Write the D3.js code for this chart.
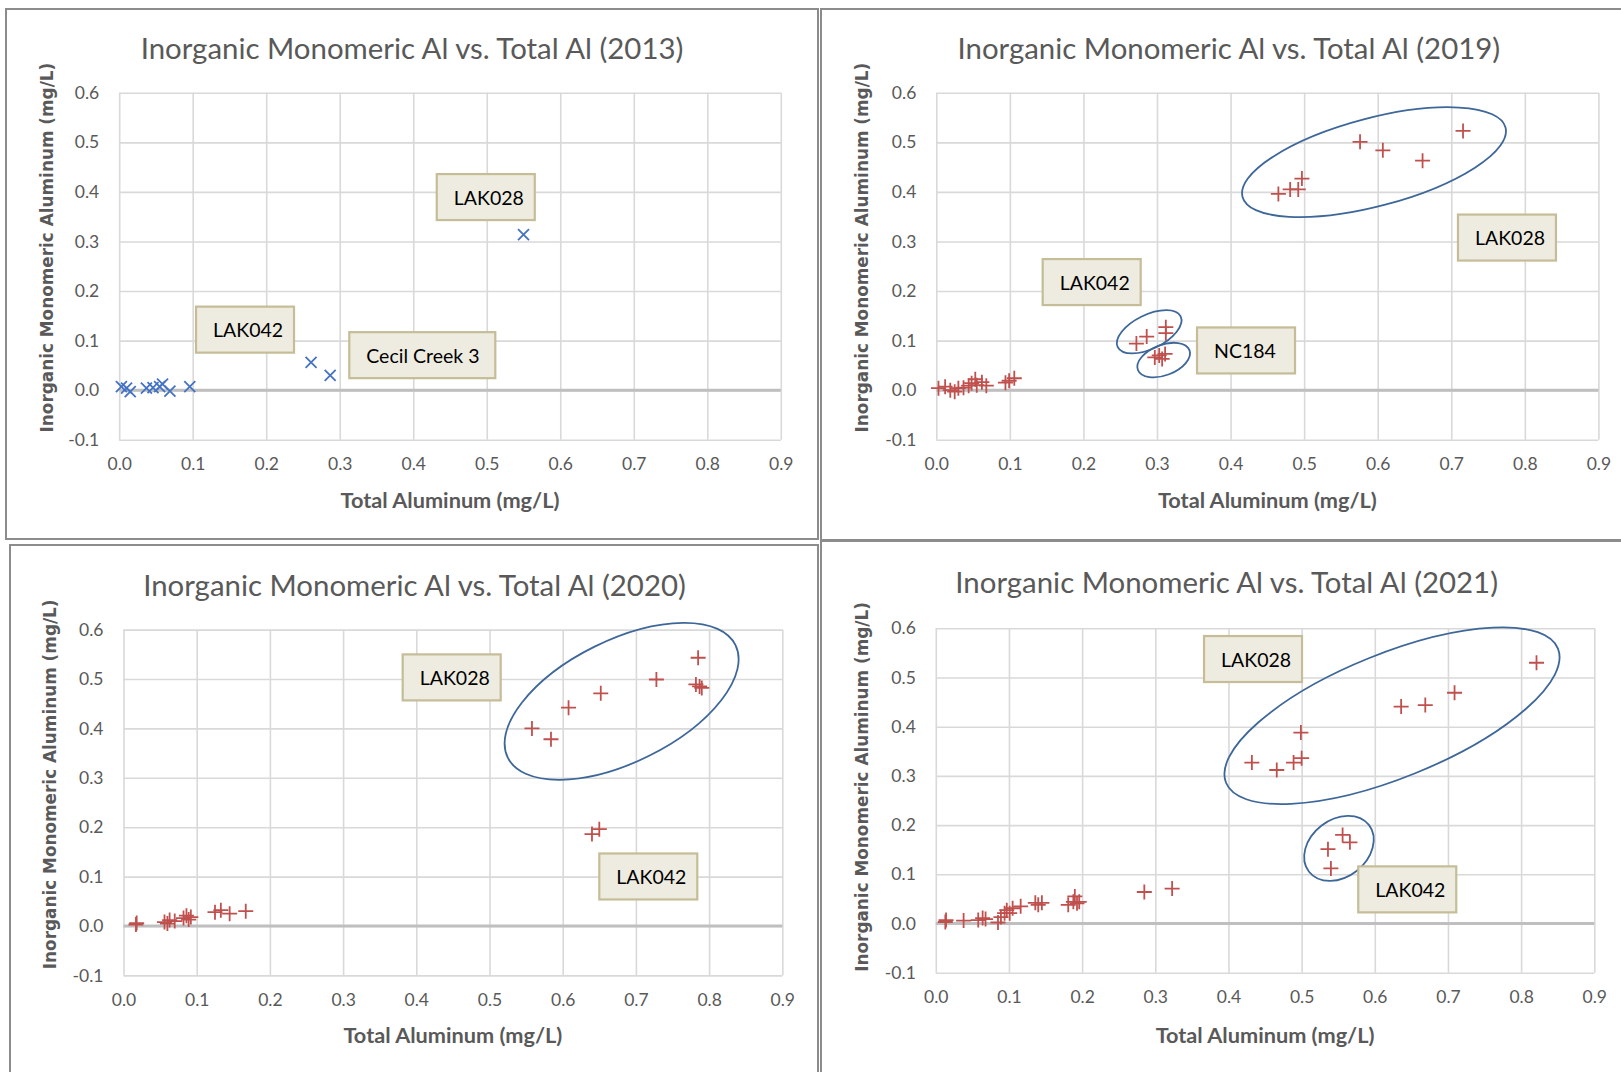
<!DOCTYPE html>
<html>
<head>
<meta charset="utf-8">
<script src="https://cdnjs.cloudflare.com/ajax/libs/d3/7.8.5/d3.min.js"></script>
<style>
  body { margin: 0; background: #fff; }
  svg { display: block; }
</style>
</head>
<body>
<div id="chart"></div>
<script>
// ---- values ----
var xTicks = [0.0, 0.1, 0.2, 0.3, 0.4, 0.5, 0.6, 0.7, 0.8, 0.9];
var yTicks = [-0.1, 0.0, 0.1, 0.2, 0.3, 0.4, 0.5, 0.6];

var total2013 = [0.003, 0.010, 0.015, 0.037, 0.046, 0.055, 0.059, 0.069, 0.096, 0.261, 0.287, 0.550];
var inorg2013 = [0.007, 0.004, -0.003, 0.004, 0.005, 0.007, 0.012, -0.002, 0.007, 0.056, 0.030, 0.314];

var total2019 = [0.003, 0.012, 0.019, 0.025, 0.030, 0.037, 0.044, 0.048, 0.053, 0.055, 0.062, 0.068, 0.094, 0.099, 0.106,
  0.272, 0.286, 0.312, 0.312, 0.297, 0.303, 0.307, 0.311,
  0.465, 0.481, 0.492, 0.497, 0.576, 0.607, 0.661, 0.716];
var inorg2019 = [0.004, 0.007, 0.000, -0.003, 0.004, 0.005, 0.009, 0.014, 0.022, 0.010, 0.016, 0.009, 0.015, 0.019, 0.024,
  0.094, 0.108, 0.127, 0.115, 0.066, 0.070, 0.063, 0.073,
  0.396, 0.405, 0.405, 0.427, 0.501, 0.484, 0.463, 0.523];

var total2020 = [0.017, 0.018, 0.056, 0.060, 0.063, 0.070, 0.082, 0.086, 0.089, 0.092, 0.125, 0.133, 0.145, 0.167,
  0.558, 0.584, 0.608, 0.652, 0.728, 0.785, 0.782, 0.787, 0.790, 0.640, 0.650];
var inorg2020 = [0.003, 0.006, 0.008, 0.005, 0.012, 0.010, 0.016, 0.021, 0.013, 0.018, 0.028, 0.032, 0.025, 0.030,
  0.400, 0.378, 0.442, 0.471, 0.499, 0.543, 0.489, 0.485, 0.482, 0.186, 0.196];

var total2021 = [0.013, 0.014, 0.038, 0.058, 0.064, 0.068, 0.085, 0.089, 0.094, 0.097, 0.101, 0.105, 0.116, 0.136, 0.140,
  0.145, 0.181, 0.188, 0.190, 0.193, 0.196, 0.285, 0.323,
  0.432, 0.466, 0.489, 0.500, 0.499, 0.636, 0.669, 0.709, 0.821,
  0.536, 0.540, 0.556, 0.566];
var inorg2021 = [0.003, 0.007, 0.006, 0.007, 0.011, 0.009, 0.002, 0.013, 0.021, 0.027, 0.021, 0.031, 0.035, 0.042, 0.038,
  0.042, 0.038, 0.044, 0.055, 0.041, 0.044, 0.064, 0.071,
  0.327, 0.312, 0.327, 0.336, 0.388, 0.441, 0.444, 0.469, 0.530,
  0.151, 0.112, 0.180, 0.165];

// call-out boxes: text, top-left corner in data units
var labels2013 = [["LAK028", 0.432, 0.436], ["LAK042", 0.1045, 0.1685], ["Cecil Creek 3", 0.313, 0.117]];
var labels2019 = [["LAK042", 0.1446, 0.2645], ["NC184", 0.3544, 0.1265], ["LAK028", 0.7091, 0.3543]];
var labels2020 = [["LAK028", 0.3814, 0.5498], ["LAK042", 0.650, 0.1468]];
var labels2021 = [["LAK028", 0.3666, 0.5843], ["LAK042", 0.5774, 0.1161]];

// ellipses: centre in data units, semi axes (px), tilt (deg)
var rings2013 = [];
var rings2019 = [[0.595, 0.460, 136, 44, 14.8], [0.2894, 0.1178, 35, 17, 26], [0.3091, 0.0607, 27.6, 15.2, 21]];
var rings2020 = [[0.6805, 0.4548, 127, 61, 26.3]];
var rings2021 = [[0.6235, 0.4223, 179, 62, 22], [0.551, 0.1528, 38, 28.7, 38]];

// ---- layout ----
var panels = [
  { year: "2013", xs: total2013, ys: inorg2013, labels: labels2013, rings: rings2013, marker: "x", color: "#4472c4",
    frame: [6, 9, 812, 530], plot: [119.2, 92.8, 780.8, 439.7], title: [412, 47], ytitle: [47, 247.6], xtitle: 499.5 },
  { year: "2019", xs: total2019, ys: inorg2019, labels: labels2019, rings: rings2019, marker: "+", color: "#c0504d",
    frame: [821, 9, 805, 531], plot: [936.3, 92.8, 1598.4, 439.7], title: [1228.8, 47], ytitle: [862.3, 247.6], xtitle: 499.5 },
  { year: "2020", xs: total2020, ys: inorg2020, labels: labels2020, rings: rings2020, marker: "+", color: "#c0504d",
    frame: [10, 545, 808, 540], plot: [123.5, 629.6, 782.3, 975.4], title: [414.5, 584], ytitle: [49.7, 784.3], xtitle: 1035.4 },
  { year: "2021", xs: total2021, ys: inorg2021, labels: labels2021, rings: rings2021, marker: "+", color: "#c0504d",
    frame: [821, 541, 805, 540], plot: [935.8, 628.3, 1594.3, 972.7], title: [1226.7, 581.4], ytitle: [862.3, 786.9], xtitle: 1034.7 }
];

var textGray = "#595959";

var svg = d3.select("#chart").append("svg")
  .attr("width", 1621)
  .attr("height", 1072);

svg.append("rect").attr("width", 1621).attr("height", 1072).attr("fill", "#fff");

function fitWidth(sel, w) {
  sel.each(function () {
    var t = d3.select(this);
    var fs = parseFloat(t.style("font-size"));
    var len = this.getComputedTextLength();
    t.style("font-size", (fs * w / len) + "px");
  });
}

function markerPath(kind) {
  if (kind == "x") {
    var s = 5.5;
    return "M" + -s + "," + -s + "L" + s + "," + s + "M" + -s + "," + s + "L" + s + "," + -s;
  }
  var r = 7.5;
  return "M" + -r + ",0H" + r + "M0," + -r + "V" + r;
}

panels.forEach(function (p) {
  var g = svg.append("g");

  g.append("rect")
    .attr("x", p.frame[0]).attr("y", p.frame[1])
    .attr("width", p.frame[2]).attr("height", p.frame[3])
    .attr("fill", "none")
    .attr("stroke", "#8c8c8c")
    .attr("stroke-width", 2);

  var x = d3.scaleLinear().domain([0, 0.9]).range([p.plot[0], p.plot[2]]);
  var y = d3.scaleLinear().domain([-0.1, 0.6]).range([p.plot[3], p.plot[1]]);
  var w = p.plot[2] - p.plot[0];
  var h = p.plot[3] - p.plot[1];

  var yAxis = g.append("g")
    .attr("transform", "translate(" + p.plot[0] + ",0)")
    .call(d3.axisLeft(y).tickValues(yTicks).tickSize(-w).tickPadding(20)
      .tickFormat(function (d) { return d.toFixed(1); }));

  var xAxis = g.append("g")
    .attr("transform", "translate(0," + p.plot[3] + ")")
    .call(d3.axisBottom(x).tickValues(xTicks).tickSize(-h).tickPadding(18)
      .tickFormat(function (d) { return d.toFixed(1); }));

  [yAxis, xAxis].forEach(function (a) {
    a.select(".domain").remove();
    a.selectAll(".tick line").attr("stroke", "#d9d9d9").attr("stroke-width", 1.6);
    a.selectAll(".tick text")
      .attr("fill", textGray)
      .style("font-family", "Lato, 'Open Sans', sans-serif")
      .style("font-size", "17.5px");
  });

  // zero line
  g.append("line")
    .attr("x1", p.plot[0]).attr("x2", p.plot[2])
    .attr("y1", y(0)).attr("y2", y(0))
    .attr("stroke", "#bfbfbf")
    .attr("stroke-width", 3);

  // points
  g.append("g").selectAll("path")
    .data(p.xs.map(function (v, i) { return [v, p.ys[i]]; }))
    .enter().append("path")
    .attr("transform", function (d) { return "translate(" + x(d[0]) + "," + y(d[1]) + ")"; })
    .attr("d", markerPath(p.marker))
    .attr("fill", "none")
    .attr("stroke", p.color)
    .attr("stroke-width", 1.8);

  // ellipses
  g.append("g").selectAll("ellipse")
    .data(p.rings)
    .enter().append("ellipse")
    .attr("transform", function (d) { return "translate(" + x(d[0]) + "," + y(d[1]) + ") rotate(" + -d[4] + ")"; })
    .attr("rx", function (d) { return d[2]; })
    .attr("ry", function (d) { return d[3]; })
    .attr("fill", "none")
    .attr("stroke", "#3e6799")
    .attr("stroke-width", 1.8);

  // call-out boxes
  var box = g.append("g").selectAll("g")
    .data(p.labels)
    .enter().append("g")
    .attr("transform", function (d) { return "translate(" + x(d[1]) + "," + y(d[2]) + ")"; });

  box.append("rect")
    .attr("width", function (d) { return d[0].length > 6 ? 146 : 98; })
    .attr("height", 46)
    .attr("fill", "#eeece1")
    .attr("stroke", "#c4bd97")
    .attr("stroke-width", 2.2);

  box.append("text")
    .attr("x", 17)
    .attr("y", 30.5)
    .attr("fill", "#000")
    .style("font-family", "Lato, 'Open Sans', sans-serif")
    .style("font-size", "19.5px")
    .text(function (d) { return d[0]; });

  // titles
  g.append("text")
    .attr("x", p.title[0]).attr("y", p.title[1])
    .attr("text-anchor", "middle")
    .attr("dominant-baseline", "central")
    .attr("fill", textGray)
    .style("font-family", "Lato, 'Open Sans', sans-serif")
    .style("font-size", "24px")
    .text("Inorganic Monomeric Al vs. Total Al (" + p.year + ")")
    .call(fitWidth, 543);

  g.append("text")
    .attr("x", (p.plot[0] + p.plot[2]) / 2).attr("y", p.xtitle)
    .attr("text-anchor", "middle")
    .attr("dominant-baseline", "central")
    .attr("fill", textGray)
    .style("font-family", "Lato, 'Open Sans', sans-serif")
    .style("font-weight", "bold")
    .style("font-size", "18px")
    .text("Total Aluminum (mg/L)")
    .call(fitWidth, 219);

  g.append("text")
    .attr("transform", "translate(" + p.ytitle[0] + "," + p.ytitle[1] + ") rotate(-90)")
    .attr("text-anchor", "middle")
    .attr("dominant-baseline", "central")
    .attr("fill", textGray)
    .style("font-family", "'DejaVu Sans', Verdana, sans-serif")
    .style("font-weight", "bold")
    .style("font-size", "16px")
    .text("Inorganic Monomeric Aluminum (mg/L)")
    .call(fitWidth, 370);
});
</script>
</body>
</html>
